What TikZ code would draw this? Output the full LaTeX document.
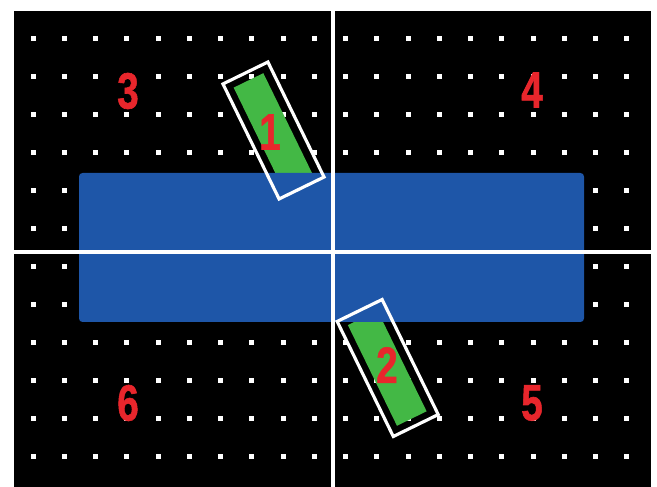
\documentclass[tikz,border=0pt]{standalone}
\usepackage{fontspec}
\setmainfont{Liberation Sans}
\newfontfamily\numfont[FakeBold=1.2]{Liberation Sans}
\usepackage{tikz}

\definecolor{plateblue}{HTML}{1E56A8}
\definecolor{padgreen}{HTML}{43B845}
\definecolor{numred}{HTML}{E8262C}

\begin{document}
\begin{tikzpicture}[x=0.02cm, y=0.02cm,
    dot/.style = {fill=white},
    axis/.style = {draw=white, line width=2pt},
    frame/.style = {draw=white, line width=1.8pt},
    num/.style = {inner sep=0pt, text=numred, font=\numfont\bfseries\fontsize{29}{29}\selectfont, xscale=0.76, transform shape}]
    \useasboundingbox (0,0) rectangle (657,487);
    \fill[black] (14,0) rectangle (651,476);

    % grid of dots
    \foreach \i in {0,...,11}
        \foreach \j in {0,...,19}
            \fill[dot] ({33+31.26*\j-2.5},{448-38*\i-2.5}) rectangle ++(5,5);

    % pads under the plate
    \foreach \cx/\cy in {273.5/356.5, 387.7/119}
        \fill[padgreen, shift={(\cx,\cy)}, rotate=26] (-17,-56) rectangle (16,56);

    \fill[plateblue, rounded corners=2] (79,165) rectangle (584,314);

    \draw[axis] (14,235) -- (651,235);
    \draw[axis] (333,0) -- (333,476);

    \foreach \cx/\cy in {273.5/356.5, 387.7/119}
        \draw[frame, shift={(\cx,\cy)}, rotate=26] (-25,-64) rectangle (25,64);

    \node[num] (n1) at (270,355) {1};
    \node[num] (n2) at (387,122) {2};
    \node[num] (n3) at (128,396) {3};
    \node[num] (n4) at (532,397) {4};
    \node[num] (n5) at (532,84) {5};
    \node[num] (n6) at (128,84) {6};
\end{tikzpicture}
\end{document}
